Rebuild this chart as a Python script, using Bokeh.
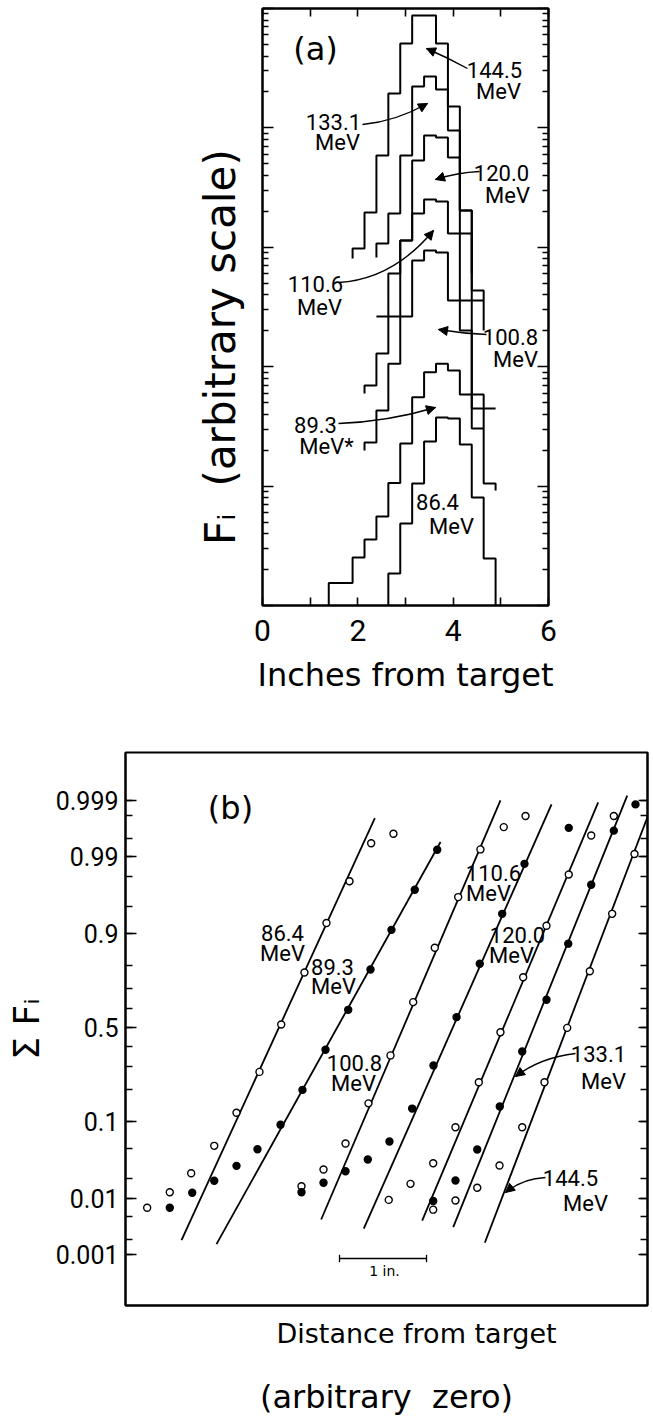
import math
from statistics import NormalDist
from bokeh.plotting import figure
from bokeh.models import (LinearAxis, LogAxis, FixedTicker, Range1d, Label,
                          Arrow, NormalHead)
from bokeh.embed import file_html
from bokeh.resources import INLINE

NARROW = "Roboto"
WIDE = "DejaVu Sans"
NB = "\u00a0"

# ---------------- panel (a): range histograms (arbitrary units) ----------------
a_x_ticks = [0, 1, 2, 3, 4, 5, 6]
a_x_labels = {0: "0", 1: "", 2: "2", 3: "", 4: "4", 5: "", 6: "6"}
a_y_decades = [1, 10, 100, 1000, 10000, 100000]

h144_edges = [1.89, 2.14, 2.39, 2.64, 2.89, 3.14, 3.39, 3.64, 3.89, 4.14, 4.39, 4.64]
h144_vals = [977, 1960, 5870, 19400, 50900, 87300, 87300, 50900, 15100, 2030, 435]
h144_ends = [805, 358]

h133_edges = [2.39, 2.64, 2.89, 3.14, 3.39, 3.64, 3.89, 4.14, 4.39]
h133_vals = [1077, 1920, 5870, 22200, 26900, 21000, 9510, 2030]
h133_ends = [822, 604]

h120_edges = [2.39, 2.64, 2.89, 3.14, 3.39, 3.64, 3.89, 4.14, 4.39, 4.64]
h120_vals = [263, 263, 1140, 5330, 8630, 8310, 5650, 1305, 358]
h120_ends = [263, 201]

h110_edges = [2.14, 2.39, 2.64, 2.89, 3.14, 3.39, 3.64, 3.89, 4.14, 4.39, 4.64, 4.89]
h110_vals = [69.6, 129, 604, 1140, 1920, 2510, 2420, 1305, 358, 44.7, 44.7]
h110_ends = [59.7, 44.7]

h100_edges = [2.14, 2.39, 2.64, 2.89, 3.14, 3.39, 3.64, 3.89, 4.14, 4.39, 4.64]
h100_vals = [23.2, 43.0, 106, 263, 775, 940, 904, 358, 201, 58.5]
h100_ends = [19.9, 30.4]

h89_edges = [1.39, 1.64, 1.89, 2.14, 2.39, 2.64, 2.89, 3.14, 3.39, 3.64, 3.89, 4.14, 4.39, 4.64, 4.89]
h89_vals = [1.54, 1.54, 2.52, 3.57, 5.56, 10.6, 22.7, 55.6, 89.9, 106, 92.9, 58.5, 30.4, 10.5]
h89_ends = [1, 9.19]

h86_edges = [2.64, 2.89, 3.14, 3.39, 3.64, 3.89, 4.14, 4.39, 4.64, 4.89]
h86_vals = [1.85, 4.86, 10.5, 23.6, 37.6, 36.8, 22.3, 8.03, 2.48]
h86_ends = [1, 1]

# ---------------- panel (b): cumulative sums on probability scale ----------------
b_prob_major = [0.001, 0.01, 0.1, 0.5, 0.9, 0.99, 0.999]
b_prob_minor = [0.001, 0.002, 0.005, 0.01, 0.02, 0.05, 0.1, 0.2, 0.3, 0.4, 0.5,
                0.6, 0.7, 0.8, 0.9, 0.95, 0.98, 0.99, 0.995, 0.998, 0.999]

x86 = [0.249, 0.509, 0.755, 1.020, 1.276, 1.540, 1.790, 2.057, 2.310, 2.575, 2.824, 3.080]
p86 = [0.0071, 0.0125, 0.0237, 0.0537, 0.123, 0.273, 0.516, 0.773, 0.9225, 0.9767, 0.9939, 0.9958]
fit86_x, fit86_p = [0.644, 2.866], [0.0019, 0.9978]

x89 = [0.509, 0.767, 1.020, 1.276, 1.517, 1.782, 2.034, 2.299, 2.560, 2.816, 3.057, 3.325, 3.583]
p89 = [0.0071, 0.0123, 0.0185, 0.0299, 0.0489, 0.0928, 0.198, 0.381, 0.595, 0.785, 0.908, 0.9695, 0.9922]
fit89_x, fit89_p = [1.046, 3.621], [0.0016, 0.9942]

x100 = [2.023, 2.276, 2.529, 2.793, 3.046, 3.307, 3.555, 3.824, 4.080, 4.348, 4.598]
p100 = [0.0154, 0.0267, 0.0573, 0.151, 0.352, 0.635, 0.861, 0.962, 0.9923, 0.9968, 0.9980]
fit100_x, fit100_p = [2.249, 4.310], [0.0045, 0.9990]

x110 = [2.023, 2.276, 2.529, 2.785, 3.034, 3.295, 3.540, 3.805, 4.072, 4.330, 4.586, 5.095]
p110 = [0.0125, 0.0173, 0.0253, 0.0363, 0.0605, 0.135, 0.303, 0.556, 0.807, 0.939, 0.987, 0.9967]
fit110_x, fit110_p = [2.739, 4.897], [0.0031, 0.9988]

x120 = [3.026, 3.276, 3.537, 3.793, 4.061, 4.310, 4.571, 4.839, 5.095, 5.353, 5.613]
p120 = [0.0095, 0.0167, 0.0324, 0.0875, 0.228, 0.4745, 0.753, 0.917, 0.9813, 0.9955, 0.9980]
fit120_x, fit120_p = [3.410, 5.433], [0.0043, 0.9989]

x133 = [3.537, 3.793, 4.043, 4.302, 4.560, 4.839, 5.089, 5.353, 5.613, 5.862]
p133 = [0.0091, 0.0187, 0.0485, 0.141, 0.372, 0.647, 0.873, 0.974, 0.9963, 0.9988]
fit133_x, fit133_p = [3.767, 5.767], [0.0033, 0.9992]

x144 = [3.537, 3.793, 4.043, 4.299, 4.560, 4.816, 5.077, 5.337, 5.594, 5.851]
p144 = [0.0066, 0.0093, 0.0146, 0.0302, 0.0875, 0.228, 0.498, 0.778, 0.939, 0.9909]
fit144_x, fit144_p = [4.130, 6.034], [0.0017, 0.9985]

scale_bar_start, scale_bar_len = 2.46, 1.0

ND = NormalDist()
def probit(p):
    return ND.inv_cdf(p)

def style_axis(ax, tin, tout, minin, width=2):
    ax.axis_line_width = width
    ax.axis_line_color = "black"
    ax.major_tick_in = tin
    ax.major_tick_out = tout
    ax.minor_tick_in = minin
    ax.minor_tick_out = 0
    ax.major_tick_line_width = 1.6
    ax.minor_tick_line_width = 1.3
    ax.major_tick_line_color = "black"
    ax.minor_tick_line_color = "black"

def hide_labels(ax):
    ax.major_label_text_font_size = "1px"
    ax.major_label_text_color = None
    ax.major_label_standoff = 0

def label(fig, conv, px, py, text, size, font=NARROW, align="center", angle=0):
    x, y = conv(px, py)
    fig.add_layout(Label(x=x, y=y, text=text, text_font=font, text_font_size=size,
                         text_align=align, text_baseline="middle", text_color="black",
                         angle=angle, angle_units="deg"))

def curved_arrow(fig, conv, p0, pc, p1):
    # quadratic curve from p0 to p1 (page pixels) with a filled head at p1
    x0, y0 = conv(*p0)
    xc, yc = conv(*pc)
    x1, y1 = conv(*p1)
    fig.quadratic(x0=[x0], y0=[y0], x1=[x1], y1=[y1], cx=[xc], cy=[yc],
                  line_color="black", line_width=1.4)
    t = 0.06
    hx, hy = conv(p1[0] + t * (pc[0] - p1[0]), p1[1] + t * (pc[1] - p1[1]))
    fig.add_layout(Arrow(end=NormalHead(size=9, fill_color="black", line_color="black", line_width=1),
                         x_start=hx, y_start=hy, x_end=x1, y_end=y1,
                         line_width=1.4, line_color="black"))

# ================= figure (a) =================
pa = figure(frame_width=286, frame_height=597, x_range=Range1d(0, 6),
            y_range=Range1d(1, 1e5), y_axis_type="log",
            min_border_left=262, min_border_right=105, min_border_top=8,
            min_border_bottom=130, output_backend="svg", toolbar_location=None)
pa.grid.visible = False
pa.outline_line_color = "black"
pa.outline_line_width = 2

def px_a(px, py):
    return (px - 262) / 47.67, 10 ** ((605 - py) / 119.4)

pa.xaxis.ticker = FixedTicker(ticks=a_x_ticks)
pa.xaxis.major_label_overrides = a_x_labels
style_axis(pa.xaxis[0], 8, 0, 0)
pa.xaxis.minor_tick_line_color = None
pa.xaxis.major_label_text_font = NARROW
pa.xaxis.major_label_text_font_size = "30px"
pa.xaxis.major_label_text_color = "black"
pa.xaxis.major_label_standoff = 14
pa.xaxis.axis_label = "Inches from target"
pa.xaxis.axis_label_text_font = WIDE
pa.xaxis.axis_label_text_font_size = "32px"
pa.xaxis.axis_label_text_font_style = "normal"
pa.xaxis.axis_label_text_color = "black"
pa.xaxis.axis_label_standoff = 12

top_a = LinearAxis(ticker=FixedTicker(ticks=a_x_ticks))
hide_labels(top_a)
style_axis(top_a, 8, 0, 0)
top_a.minor_tick_line_color = None
pa.add_layout(top_a, "above")

minor_a = [m * d for d in a_y_decades[:-1] for m in range(2, 10)]
pa.yaxis.ticker = FixedTicker(ticks=a_y_decades, minor_ticks=minor_a)
hide_labels(pa.yaxis[0])
style_axis(pa.yaxis[0], 11, 0, 6)
pa.yaxis.axis_label = "F\u1d62" + NB + NB + "(arbitrary" + NB + "scale)" + NB * 6
pa.yaxis.axis_label_text_font = WIDE
pa.yaxis.axis_label_text_font_size = "42px"
pa.yaxis.axis_label_text_font_style = "normal"
pa.yaxis.axis_label_text_color = "black"
pa.yaxis.axis_label_standoff = 18

right_a = LogAxis(ticker=FixedTicker(ticks=a_y_decades, minor_ticks=minor_a))
hide_labels(right_a)
style_axis(right_a, 11, 0, 6)
pa.add_layout(right_a, "right")

def step_path(edges, vals, ends):
    xs, ys = [edges[0]], [ends[0]]
    for i, v in enumerate(vals):
        xs += [edges[i], edges[i + 1]]
        ys += [v, v]
    xs.append(edges[-1])
    ys.append(ends[1])
    return xs, ys

for e, v, en in [(h144_edges, h144_vals, h144_ends), (h133_edges, h133_vals, h133_ends),
                 (h120_edges, h120_vals, h120_ends), (h110_edges, h110_vals, h110_ends),
                 (h100_edges, h100_vals, h100_ends), (h89_edges, h89_vals, h89_ends),
                 (h86_edges, h86_vals, h86_ends)]:
    xs, ys = step_path(e, v, en)
    pa.line(xs, ys, line_color="black", line_width=2)

label(pa, px_a, 315, 48, "(a)", "32px", font=WIDE)
for (cx, cy, t) in [(494, 69, "144.5"), (498, 91, "MeV"), (333, 121, "133.1"), (337, 142, "MeV"),
                    (501, 172, "120.0"), (507, 195, "MeV"), (315, 283, "110.6"), (319, 307, "MeV"),
                    (510, 336, "100.8"), (515, 359, "MeV"), (315, 424, "89.3"), (326, 446, "MeV*"),
                    (437, 501, "86.4"), (451, 526, "MeV")]:
    label(pa, px_a, cx, cy, t, "22px")
for s, c, e in [((467, 68), (447, 57), (426, 48)), ((362, 124), (395, 121), (427, 103)),
                ((479, 171), (457, 172), (435, 179)), ((338, 282), (392, 279), (433, 230)),
                ((486, 334), (462, 333), (438, 329)), ((338, 423), (388, 421), (435, 407))]:
    curved_arrow(pa, px_a, s, c, e)

# ================= figure (b) =================
TOP_B = 752
zB, zT = (1027 - 1305) / 73.5, (1027 - TOP_B) / 73.5
pb = figure(frame_width=522, frame_height=1305 - TOP_B, x_range=Range1d(0, 522 / 87),
            y_range=Range1d(zB, zT), min_border_left=125, min_border_right=6,
            min_border_top=TOP_B - 735, min_border_bottom=112,
            output_backend="svg", toolbar_location=None)
pb.grid.visible = False
pb.outline_line_color = "black"
pb.outline_line_width = 2

def px_b(px, py):
    return (px - 125) / 87, (1027 - py) / 73.5

maj_z = [round(probit(p), 6) for p in b_prob_major]
min_z = [round(probit(p), 6) for p in b_prob_minor]
pb.yaxis.ticker = FixedTicker(ticks=maj_z, minor_ticks=min_z)
pb.yaxis.major_label_overrides = {z: str(p) for z, p in zip(maj_z, b_prob_major)}
style_axis(pb.yaxis[0], 11, 0, 7)
pb.yaxis.major_label_text_font = NARROW
pb.yaxis.major_label_text_font_size = "25px"
pb.yaxis.major_label_text_color = "black"
pb.yaxis.major_label_standoff = 7
pb.yaxis.axis_label = "\u03a3" + NB + "F\u1d62"
pb.yaxis.axis_label_text_font = WIDE
pb.yaxis.axis_label_text_font_size = "36px"
pb.yaxis.axis_label_text_font_style = "normal"
pb.yaxis.axis_label_text_color = "black"
pb.yaxis.axis_label_standoff = 6

right_b = LinearAxis(ticker=FixedTicker(ticks=maj_z, minor_ticks=min_z))
hide_labels(right_b)
style_axis(right_b, 9, 0, 7)
pb.add_layout(right_b, "right")

bx = pb.xaxis[0]
bx.ticker = FixedTicker(ticks=[3])
bx.major_label_overrides = {3: ""}
hide_labels(bx)
style_axis(bx, 0, 0, 0)
bx.axis_label = NB * 7 + "Distance from target"
bx.axis_label_text_font = WIDE
bx.axis_label_text_font_size = "27px"
bx.axis_label_text_font_style = "normal"
bx.axis_label_text_color = "black"
bx.axis_label_standoff = 12

bx2 = LinearAxis(ticker=FixedTicker(ticks=[3]), major_label_overrides={3: ""},
                 axis_line_color=None, major_tick_line_color=None, minor_tick_line_color=None,
                 axis_label="(arbitrary" + NB + NB + "zero)", axis_label_text_font=WIDE,
                 axis_label_text_font_size="32px", axis_label_text_font_style="normal",
                 axis_label_text_color="black", axis_label_standoff=20)
hide_labels(bx2)
pb.add_layout(bx2, "below")

series = [(x86, p86, fit86_x, fit86_p, False), (x89, p89, fit89_x, fit89_p, True),
          (x100, p100, fit100_x, fit100_p, False), (x110, p110, fit110_x, fit110_p, True),
          (x120, p120, fit120_x, fit120_p, False), (x133, p133, fit133_x, fit133_p, True),
          (x144, p144, fit144_x, fit144_p, False)]
for xs, ps, fx, fp, filled in series:
    pb.line(fx, [probit(p) for p in fp], line_color="black", line_width=1.8)
    pb.scatter(xs, [probit(p) for p in ps], size=7, marker="circle",
               fill_color="black" if filled else "white", line_color="black", line_width=1.4)

# scale bar
zbar = (1027 - 1258) / 73.5
pb.segment(x0=[scale_bar_start], y0=[zbar], x1=[scale_bar_start + scale_bar_len], y1=[zbar],
           line_color="black", line_width=1.3)
pb.segment(x0=[scale_bar_start, scale_bar_start + scale_bar_len], y0=[zbar - 0.05, zbar - 0.05],
           x1=[scale_bar_start, scale_bar_start + scale_bar_len], y1=[zbar + 0.05, zbar + 0.05],
           line_color="black", line_width=1.3)
label(pb, px_b, 384, 1270, "1 in.", "14px", font=WIDE)

label(pb, px_b, 230, 807, "(b)", "32px", font=WIDE)
for (cx, cy, t) in [(282, 932, "86.4"), (282, 953, "MeV"), (332, 966, "89.3"), (333, 986, "MeV"),
                    (354, 1062, "100.8"), (353, 1083, "MeV"), (493, 872, "110.6"), (488, 893, "MeV"),
                    (517, 934, "120.0"), (511, 955, "MeV"), (598, 1053, "133.1"), (603, 1081, "MeV"),
                    (570, 1177, "144.5"), (585, 1203, "MeV")]:
    label(pb, px_b, cx, cy, t, "22px")
for s, c, e in [((575, 1053), (540, 1057), (515, 1076)), ((545, 1177), (522, 1178), (505, 1192))]:
    curved_arrow(pb, px_b, s, c, e)

open("out.html", "w").write(file_html([pa, pb], INLINE))
